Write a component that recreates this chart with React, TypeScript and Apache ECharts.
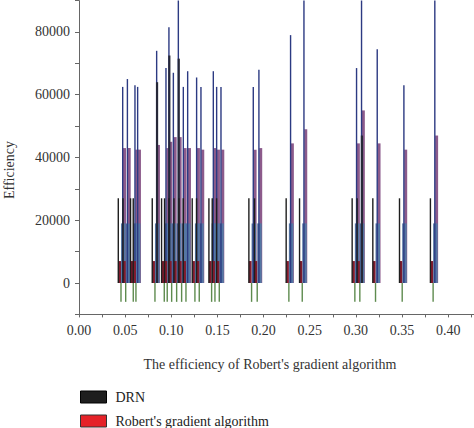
import React, { useEffect, useRef } from "react";
import * as echarts from "echarts";

// Group positions on the x axis
const groupX = [
  0.0455, 0.0506, 0.0588, 0.0617, 0.0823, 0.0924, 0.0956, 0.1004, 0.1058, 0.1112,
  0.1159, 0.1256, 0.1303, 0.1437, 0.1473, 0.152, 0.187, 0.1931, 0.2274, 0.2419,
  0.2989, 0.3043, 0.3213, 0.3502, 0.3837,
];

const drnValues = [
  27000, 27000, 27000, 27000, 27000, 27000, 27000, 27000, 27000, 27000,
  27000, 27000, 27000, 27000, 27000, 27000, 27000, 27000, 27000, 27000,
  27000, 27000, 27000, 27000, 27000,
];

const robertValues = [
  7000, 7000, 7000, 7000, 7000, 7000, 7000, 7000, 7000, 7000,
  7000, 7000, 7000, 7000, 7000, 7000, 7000, 7000, 7000, 7000,
  7000, 7000, 7000, 7000, 7000,
];

const steelValues = [
  19000, 19000, 19000, 19000, 19000, 19000, 19000, 19000, 19000, 19000,
  19000, 19000, 19000, 19000, 19000, 19000, 19000, 19000, 19000, 19000,
  19000, 19000, 19000, 19000, 19000,
];

const navyValues = [
  62500, 65000, 63000, 62500, 74000, 68500, 81500, 67000, 95000, 62500,
  67500, 65500, 62500, 67500, 62500, 62500, 62500, 68000, 79000, 95000,
  68500, 95000, 74500, 63000, 95000,
];

const pinkValues = [
  43000, 43000, 42500, 42500, 44000, 43000, 45000, 46500, 46500, 43000,
  43000, 43000, 42500, 43000, 42500, 42500, 42500, 43000, 44500, 49000,
  44500, 55000, 44500, 42500, 47000,
];

const greenValues = [
  -6000, -6000, -6000, -6000, -6000, -6000, -6000, -6000, -6000, -6000,
  -6000, -6000, -6000, -6000, -6000, -6000, -6000, -6000, -6000, -6000,
  -6000, -6000, -6000, -6000, -6000,
];

const extraX = [0.0823, 0.0956, 0.1058, 0.3043];
const extraValues = [64000, 72500, 71500, 47000];

const xTickLabels = ["0.00", "0.05", "0.10", "0.15", "0.20", "0.25", "0.30", "0.35", "0.40"];
const yTickLabels = ["0", "20000", "40000", "60000", "80000"];

const FONT = "Liberation Serif";

function makeRenderer(offset: number, width: number, color: string) {
  return (params: any, api: any) => {
    const x = api.value(0);
    const v = api.value(1);
    const base = api.coord([x, 0]);
    const top = api.coord([x, v]);
    const cs = params.coordSys;
    const rect = echarts.graphic.clipRectByRect(
      {
        x: base[0] + offset,
        y: Math.min(base[1], top[1]),
        width,
        height: Math.abs(top[1] - base[1]),
      },
      { x: cs.x, y: cs.y, width: cs.width, height: cs.height }
    );
    if (!rect) return null;
    return { type: "rect", shape: rect, style: { fill: color } };
  };
}

function customSeries(name: string, xs: number[], vals: number[], offset: number, width: number, color: string, z: number) {
  return {
    type: "custom",
    name,
    z,
    renderItem: makeRenderer(offset, width, color),
    encode: { x: 0, y: 1 },
    data: xs.map((x, i) => [x, vals[i]]),
    itemStyle: { color },
  };
}

export default function App() {
  const ref = useRef<HTMLDivElement>(null);
  useEffect(() => {
    if (!ref.current) return;
    const chart = echarts.init(ref.current, undefined, { renderer: "svg" });
    chart.setOption({
      animation: false,
      backgroundColor: "#ffffff",
      textStyle: { fontFamily: FONT },
      grid: { left: 79, right: 0, top: 0.6, bottom: 113.6, containLabel: false },
      xAxis: {
        type: "value",
        min: 0,
        max: 0.428,
        interval: 0.05,
        axisLine: { show: true, onZero: false, lineStyle: { color: "#666", width: 1 } },
        axisTick: { show: true, length: 3, lineStyle: { color: "#666" } },
        minorTick: { show: true, splitNumber: 2, length: 3, lineStyle: { color: "#666" } },
        splitLine: { show: false },
        axisLabel: {
          margin: 9,
          fontFamily: FONT,
          fontSize: 14,
          color: "#333",
          showMaxLabel: false,
          formatter: (v: number) => {
            const s = v.toFixed(2);
            return xTickLabels.includes(s) ? s : "";
          },
        },
      },
      yAxis: {
        type: "value",
        min: -10000,
        max: 90000,
        interval: 10000,
        axisLine: { show: true, onZero: false, lineStyle: { color: "#666", width: 1 } },
        axisTick: { show: true, length: 4, lineStyle: { color: "#666" } },
        splitLine: { show: false },
        axisLabel: {
          margin: 9,
          fontFamily: FONT,
          fontSize: 14,
          color: "#333",
          formatter: (v: number) => (yTickLabels.includes(String(v)) ? String(v) : ""),
        },
      },
      legend: {
        orient: "vertical",
        left: 80,
        top: 390,
        padding: 0,
        height: 40,
        itemWidth: 26,
        itemHeight: 12,
        itemGap: 10,
        icon: "rect",
        selectedMode: false,
        textStyle: { fontFamily: FONT, fontSize: 14, color: "#222", padding: [0, 0, 0, 4] },
        data: [
          { name: "DRN", itemStyle: { color: "#1e1e1e", borderColor: "#000", borderWidth: 1 } },
          { name: "Robert's gradient algorithm", itemStyle: { color: "#e52228", borderColor: "#333", borderWidth: 1 } },
        ],
      },
      graphic: [
        {
          type: "text",
          x: 9,
          y: 170,
          rotation: Math.PI / 2,
          style: {
            text: "Efficiency",
            fontFamily: FONT,
            fontSize: 14,
            fill: "#333",
            textAlign: "center",
            textVerticalAlign: "middle",
          },
        },
        {
          type: "text",
          x: 270,
          y: 364,
          style: {
            text: "The efficiency of Robert's gradient algorithm",
            fontFamily: FONT,
            fontSize: 14,
            fill: "#333",
            textAlign: "center",
            textVerticalAlign: "middle",
          },
        },
      ],
      series: [
        customSeries("pink", groupX, pinkValues, 2, 3, "#8c5b8b", 1),
        customSeries("steel", groupX, steelValues, 0, 4.5, "#5577a3", 2),
        customSeries("navy", groupX, navyValues, 1, 1.4, "#2c3a82", 3),
        customSeries("extra", extraX, extraValues, 1, 2.2, "#262838", 4),
        customSeries("Robert's gradient algorithm", groupX, robertValues, -2.7, 2.7, "#801b2d", 5),
        customSeries("DRN", groupX, drnValues, -3.4, 1.4, "#1e1e1e", 6),
        customSeries("green", groupX, greenValues, -0.7, 1.4, "#5e8b4e", 7),
      ],
    });
    return () => chart.dispose();
  }, []);
  return (
    <div
      ref={ref}
      style={{ position: "fixed", left: 0, top: 0, width: 474, height: 428 }}
    />
  );
}
